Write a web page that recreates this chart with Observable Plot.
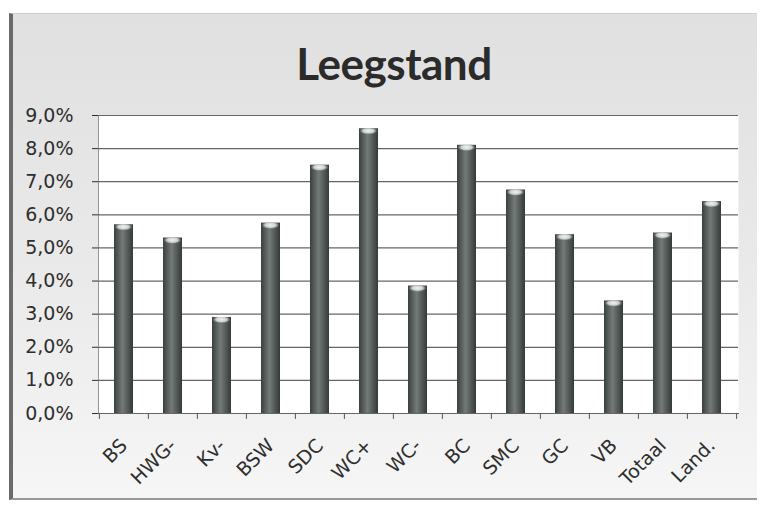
<!DOCTYPE html>
<html><head><meta charset="utf-8">
<script src="https://cdn.jsdelivr.net/npm/d3@7"></script>
<script src="https://cdn.jsdelivr.net/npm/@observablehq/plot@0.6"></script>
<style>
body{margin:0;background:#fff;width:770px;height:505px;overflow:hidden;position:relative;}
#frame{position:absolute;left:9px;top:13px;width:748px;height:487px;background:linear-gradient(#e0e0e0,#eaeaea 55%,#f6f6f6);border-left:4px solid #6a6a6a;border-top:1px solid #cfcfcf;border-bottom:2px solid #9a9a9a;box-sizing:border-box}
#title{position:absolute;left:0;width:788px;top:37px;line-height:44px;text-align:center;font:700 44px Lato;color:#2b2b2b;letter-spacing:-0.5px}
#chart{position:absolute;left:0;top:0}
</style></head><body>
<div id="frame"></div>
<div id="title">Leegstand</div>
<div id="chart"></div>
<script>
const categories = ["BS","HWG-","Kv-","BSW","SDC","WC+","WC-","BC","SMC","GC","VB","Totaal","Land."];
const values = [5.7, 5.3, 2.9, 5.75, 7.5, 8.6, 3.85, 8.1, 6.75, 5.4, 3.4, 5.45, 6.4];
const yTicks = [0,1,2,3,4,5,6,7,8,9];

const data = categories.map((c,i)=>({cat:c, value:values[i]}));
const W = 770, H = 505, mL = 98, mR = 32, mT = 115, mB = 92;
const bw = (W - mL - mR) / categories.length;

const chart = Plot.plot({
  width: W, height: H,
  marginLeft: mL, marginRight: mR, marginTop: mT, marginBottom: mB,
  style: {fontFamily: "DejaVu Sans", fontSize: "19px", background: "transparent", color: "#2e2e2e"},
  x: {domain: categories, paddingInner: 0.61, paddingOuter: 0.305, tickSize: 0, tickRotate: -45, tickPadding: 29, line: true, label: null},
  y: {domain: [0, 9], ticks: yTicks, tickFormat: d => d.toFixed(1).replace(".", ",") + "%", tickSize: 6, tickPadding: 19, line: true, label: null},
  marks: [
    Plot.frame({fill: "white", stroke: "none"}),
    Plot.ruleY(yTicks, {stroke: "#666", strokeWidth: 1.2}),
    Plot.ruleX(categories, {x: d => d, dx: -bw/2, y1: 0, y2: -0.18, stroke: "#555"}),
    Plot.ruleX(categories.slice(-1), {x: d => d, dx: bw/2, y1: 0, y2: -0.18, stroke: "#555"}),
    Plot.barY(data, {x: "cat", y: "value", fill: "url(#barGrad)"}),
    Plot.barY(data, {x: "cat", y1: d => d.value - 0.22, y2: "value", fill: "url(#capGrad)", insetLeft: 1, insetRight: 1})
  ]
});
d3.select(chart).insert("defs", ":first-child").html(`
  <linearGradient id="barGrad" x1="0" x2="1" y1="0" y2="0">
    <stop offset="0" stop-color="#394040"/>
    <stop offset="0.45" stop-color="#737a77"/>
    <stop offset="1" stop-color="#343a38"/>
  </linearGradient>
  <radialGradient id="capGrad" cx="0.5" cy="0.35" r="0.55">
    <stop offset="0" stop-color="#f2f4f3"/>
    <stop offset="0.6" stop-color="#c9cdcb"/>
    <stop offset="1" stop-color="#6f7673" stop-opacity="0"/>
  </radialGradient>`);
document.getElementById("chart").appendChild(chart);
</script>
</body></html>
